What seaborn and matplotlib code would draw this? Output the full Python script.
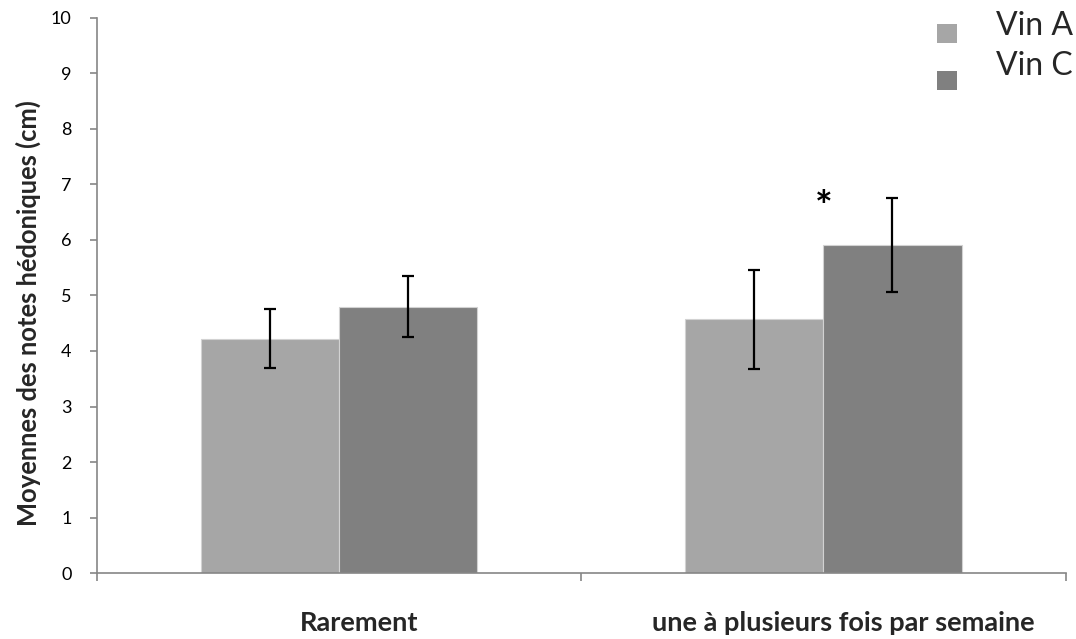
import matplotlib
matplotlib.use("Agg")
import matplotlib.pyplot as plt
import matplotlib.transforms as mtransforms
from matplotlib.legend_handler import HandlerPatch
from matplotlib.patches import Rectangle
import pandas as pd
import seaborn as sns

# Mean hedonic scores (cm) by consumption frequency and wine, with error margins
categories = ["Rarement", "une à plusieurs fois par semaine"]
wines = ["Vin A", "Vin C"]
vin_a_means = [4.22, 4.57]
vin_c_means = [4.80, 5.91]
vin_a_err = [0.53, 0.89]
vin_c_err = [0.55, 0.85]
y_ticks = list(range(0, 11))
signif_mark = "*"

sns.set_style("ticks")
plt.rcParams["font.family"] = ["Lato", "DejaVu Sans"]

df = pd.DataFrame({
    "Fréquence": categories * 2,
    "Vin": [wines[0]] * len(categories) + [wines[1]] * len(categories),
    "Note": vin_a_means + vin_c_means,
})
errors = {wines[0]: vin_a_err, wines[1]: vin_c_err}

W, H = 1076, 639
fig = plt.figure(figsize=(W / 100, H / 100), dpi=100)
ax = fig.add_axes([96.7 / W, (H - 573.3) / H, 969 / W, 555.8 / H])

axis_grey = "#868686"

sns.barplot(
    data=df, x="Fréquence", y="Note", hue="Vin",
    order=categories, hue_order=wines,
    palette=["#a6a6a6", "#808080"], saturation=1,
    width=0.57, errorbar=None,
    edgecolor="#d2d2d2", linewidth=0.8,
    ax=ax, legend=True,
)

# error bars centred on each bar
for container, wine in zip(ax.containers, wines):
    xs = [p.get_x() + p.get_width() / 2 for p in container]
    ys = [p.get_height() for p in container]
    ax.errorbar(xs, ys, yerr=errors[wine], fmt="none", ecolor="black",
                elinewidth=1.6, capsize=4, capthick=1.6, zorder=5)

# significance mark above the second group
ax.annotate(signif_mark, xy=(1, vin_c_means[1] + vin_c_err[1]),
            xytext=(0, -8), textcoords="offset points",
            ha="center", va="center", fontsize=30, fontweight="bold",
            color="black")

ax.set_xlim(-0.5, len(categories) - 0.5)
ax.set_ylim(0, 10)
ax.set_yticks(y_ticks)
ax.tick_params(axis="y", which="major", length=5, width=1.2, color=axis_grey,
               direction="out", labelsize=13, pad=13, labelcolor="black")

ax.set_xticks(range(len(categories)))
ax.set_xticklabels(categories, fontsize=19.5, fontweight="bold")
ax.set_xticks([i - 0.5 for i in range(len(categories) + 1)], minor=True)
ax.tick_params(axis="x", which="major", length=0, pad=27)
ax.tick_params(axis="x", which="minor", length=6, width=1.2, color=axis_grey,
               direction="out")

shift = mtransforms.ScaledTranslation(0.20, 0, fig.dpi_scale_trans)
for lab in ax.get_xticklabels():
    lab.set_transform(lab.get_transform() + shift)

ax.set_xlabel("")
ax.set_ylabel("Moyennes des notes hédoniques (cm)", fontsize=18.4,
              fontweight="bold")
ax.yaxis.set_label_coords(-0.0575, 0.468)

sns.despine(ax=ax)
for side in ("left", "bottom"):
    ax.spines[side].set_color(axis_grey)
    ax.spines[side].set_linewidth(1.2)


# legend swatches sit a little below their text
class LoweredSwatch(HandlerPatch):
    def __init__(self, drop_px):
        super().__init__()
        self.drop_px = drop_px

    def create_artists(self, legend, orig_handle, xdescent, ydescent,
                       width, height, fontsize, trans):
        drop = self.drop_px * 72 / fig.dpi
        side = 19 * 72 / fig.dpi
        p = Rectangle((-xdescent, -ydescent + (height - side) / 2 - drop),
                      width, side, facecolor=orig_handle.get_facecolor(),
                      edgecolor="none", transform=trans)
        return [p]


handles, labels = ax.get_legend_handles_labels()
handler_map = {h: LoweredSwatch(d) for h, d in zip(handles, [10, 17])}
ax.legend(handles, labels, loc="upper left", handler_map=handler_map,
          bbox_to_anchor=(936.7 / W, (H - 11) / H), bbox_transform=fig.transFigure,
          frameon=False, fontsize=23, handlelength=0.62, handleheight=0.7,
          handletextpad=1.25, labelspacing=0.3, borderpad=0, borderaxespad=0)

fig.savefig("out.png", dpi=100)
